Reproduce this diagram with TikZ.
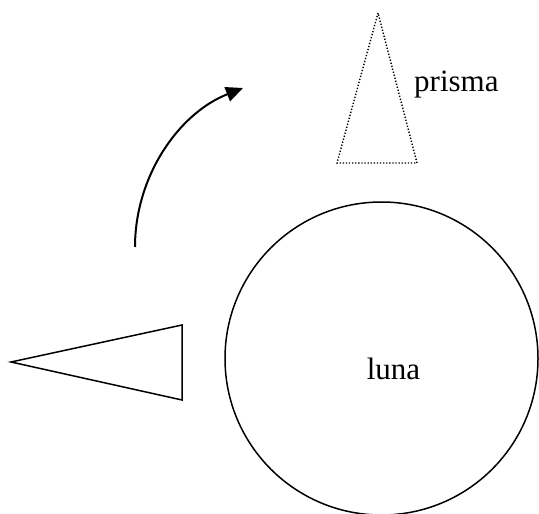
\documentclass[tikz,border=0pt]{standalone}
\usepackage{fontspec}
\setmainfont{Liberation Serif}
\usetikzlibrary{arrows.meta}
\begin{document}
\begin{tikzpicture}[x=1bp,y=-1bp,
  lbl/.style={inner sep=0pt,font=\fontsize{31bp}{37bp}\selectfont},
  solidline/.style={draw=black,line width=1.5bp,line join=miter},
  dotline/.style={draw=black,line width=1.4bp,dash pattern=on 1.3bp off 1.8bp},
  arc/.style={draw=black,line width=2bp,-{Triangle[length=17bp,width=15bp]}}]
\useasboundingbox (0,0) rectangle (539,514);
% prism (dotted)
\coordinate (pa) at (378,13);
\coordinate (pb) at (337,163);
\coordinate (pc) at (417,163);
\draw[dotline] (pa) -- (pb) -- (pc) -- cycle;
\node[lbl,anchor=base west] (prisma) at (414,92) {prisma};
% rotation arrow
\coordinate (as) at (135,247);
\coordinate (ae) at (243,88);
\draw[arc] (as) .. controls (135,177) and (177.9,113.8) .. (ae);
% moon
\coordinate (mc) at (381.5,358.5);
\draw[solidline] (mc) circle[radius=156.5];
\node[lbl,anchor=base] (luna) at (393.5,379) {luna};
% solid triangle
\coordinate (ta) at (11,362);
\coordinate (tb) at (182,325);
\coordinate (tc) at (182,400);
\draw[solidline] (ta) -- (tb) -- (tc) -- cycle;
\end{tikzpicture}
\end{document}
